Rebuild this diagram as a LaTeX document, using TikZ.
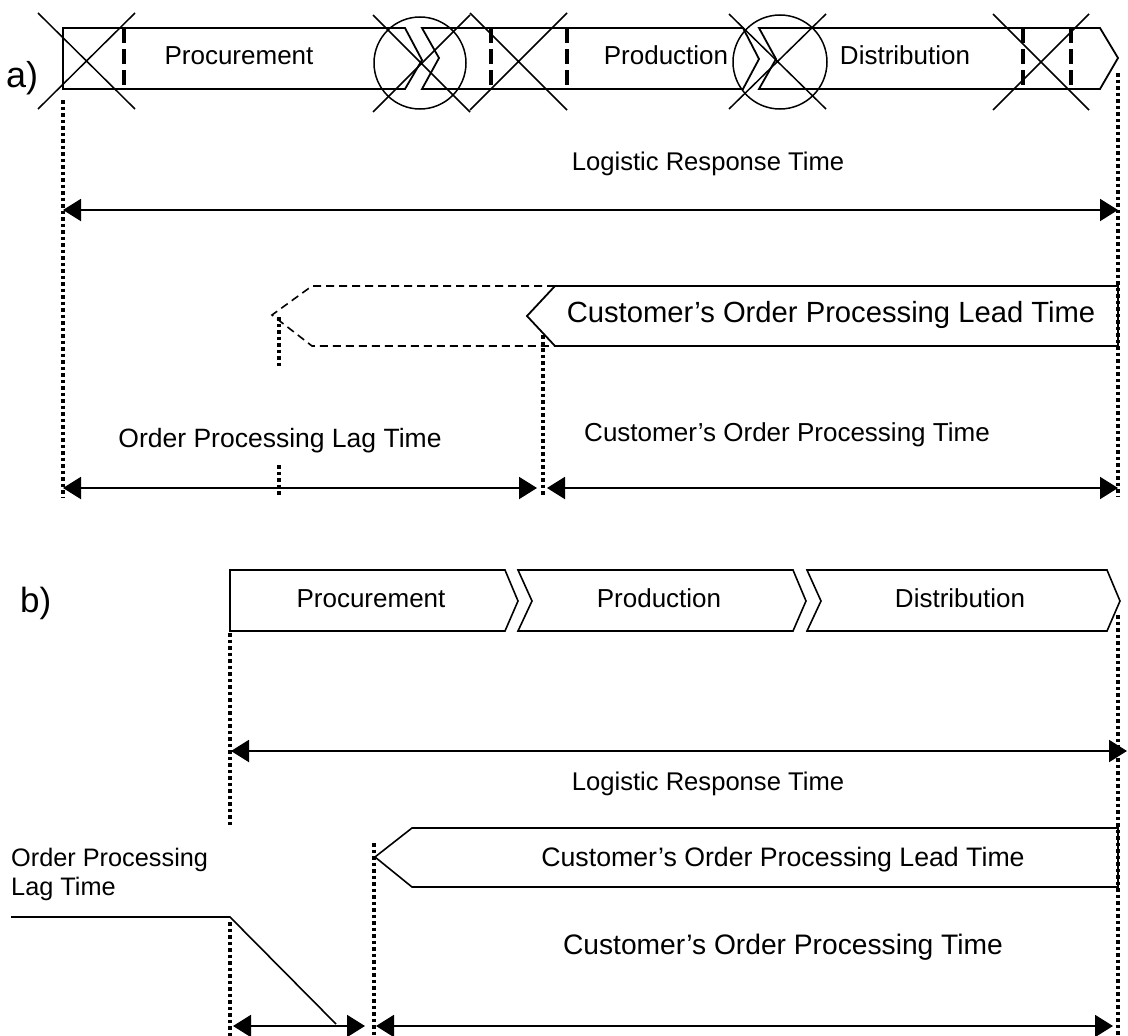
\documentclass[tikz,border=0pt]{standalone}
\usepackage{fontspec}
\setmainfont{Liberation Sans}
\usetikzlibrary{arrows.meta}

\newcommand{\fs}[1]{\fontsize{#1pt}{#1pt}\selectfont}

\tikzset{
  box/.style={draw=black, line width=1.8pt, line join=miter},
  thinbox/.style={draw=black, line width=1.6pt, line join=miter},
  ghostbox/.style={draw=black, line width=1.6pt, dash pattern=on 8pt off 5pt},
  crossline/.style={draw=black, line width=1.5pt},
  sepline/.style={draw=black, line width=4pt, dash pattern=on 15pt off 6pt},
  guide/.style={draw=black, line width=3.3pt, dash pattern=on 3.5pt off 3pt},
  span/.style={draw=black, line width=2pt,
    {Triangle[length=18pt,width=22pt]}-{Triangle[length=18pt,width=22pt]}},
  lbl/.style={inner sep=0pt, anchor=base},
}

\begin{document}
\begin{tikzpicture}[x=1pt,y=-1pt]
\useasboundingbox[fill=white] (0,0) rectangle (1128,1036);

% ---------------- a) ----------------
\node[lbl, anchor=base west, font=\fs{36}] (capA) at (6,87) {a)};

% process band
\draw[box] (63,28) -- (405,28) -- (422,60) -- (405,89) -- (63,89) -- cycle;
\draw[box] (422,28) -- (743,28) -- (759,59) -- (743,89) -- (422,89) -- (439,58) -- cycle;
\draw[box] (759,28) -- (1100,28) -- (1118,58) -- (1100,89) -- (759,89) -- (776,59) -- cycle;

\node[lbl, font=\fs{26}] (procA) at (239,64) {Procurement};
\node[lbl, font=\fs{26}] (prodA) at (666,64) {Production};
\node[lbl, font=\fs{26}] (distA) at (905,64) {Distribution};

% dashed separators
\foreach \xx in {124,491,567,1023,1071}
  \draw[sepline] (\xx,28) -- (\xx,89);

% circles round the hand-overs
\draw[crossline] (420,63) circle[radius=46];
\draw[crossline] (780,62) circle[radius=47];

% crossed-out steps
\draw[crossline] (38,13) -- (135,109) (38,109) -- (135,13);
\draw[crossline] (373,15) -- (470,112) (373,112) -- (470,15);
\draw[crossline] (470,13) -- (567,110) (470,110) -- (567,13);
\draw[crossline] (729,14) -- (826,109) (729,109) -- (826,14);
\draw[crossline] (993,14) -- (1089,110) (993,110) -- (1089,14);

% guides
\coordinate (aL0) at (63,100);   \coordinate (aL1) at (63,497);
\coordinate (aR0) at (1118,73);  \coordinate (aR1) at (1118,497);
\coordinate (aM0) at (543,335);  \coordinate (aM1) at (543,497);
\coordinate (aK0) at (279,317);  \coordinate (aK1) at (279,368);
\coordinate (aK2) at (279,465);  \coordinate (aK3) at (279,497);
\draw[guide] (aL0) -- (aL1);
\draw[guide] (aR0) -- (aR1);
\draw[guide] (aM0) -- (aM1);
\draw[guide] (aK0) -- (aK1);
\draw[guide] (aK2) -- (aK3);

% logistic response time
\node[lbl, font=\fs{25.6}] (lrtA) at (708,170) {Logistic Response Time};
\coordinate (lrtA0) at (63,210); \coordinate (lrtA1) at (1118,210);
\draw[span] (lrtA0) -- (lrtA1);

% lead time box with its dashed extension
\draw[ghostbox] (555,286) -- (312,286) -- (272,315) -- (312,346) -- (555,346);
\draw[box] (555,286) -- (1118,286) -- (1118,346) -- (555,346) -- (527,316) -- cycle;
\node[lbl, font=\fs{29.2}] (leadA) at (831,322) {Customer’s Order Processing Lead Time};

% lag / processing spans
\node[lbl, font=\fs{26.5}] (lagA) at (280,447) {Order Processing Lag Time};
\node[lbl, font=\fs{26}] (cptA) at (787,441) {Customer’s Order Processing Time};
\coordinate (lagA0) at (63,488);  \coordinate (lagA1) at (537,488);
\coordinate (cptA0) at (547,488); \coordinate (cptA1) at (1118,488);
\draw[span] (lagA0) -- (lagA1);
\draw[span] (cptA0) -- (cptA1);

% ---------------- b) ----------------
\node[lbl, anchor=base west, font=\fs{35}] (capB) at (20,612) {b)};

\draw[thinbox] (230,570) -- (505,570) -- (518,601) -- (505,631) -- (230,631) -- cycle;
\draw[thinbox] (518,570) -- (793,570) -- (806,601) -- (793,631) -- (518,631) -- (532,601) -- cycle;
\draw[thinbox] (807,570) -- (1107,570) -- (1120,601) -- (1107,631) -- (807,631) -- (821,601) -- cycle;

\node[lbl, font=\fs{26}] (procB) at (371,607) {Procurement};
\node[lbl, font=\fs{26}] (prodB) at (659,607) {Production};
\node[lbl, font=\fs{26}] (distB) at (960,607) {Distribution};

% guides
\coordinate (bL0) at (230,633);  \coordinate (bL1) at (230,825);
\coordinate (bL2) at (230,922);  \coordinate (bL3) at (230,1036);
\coordinate (bR0) at (1118,615); \coordinate (bR1) at (1118,1036);
\coordinate (bM0) at (374,843);  \coordinate (bM1) at (374,1036);
\draw[guide] (bL0) -- (bL1);
\draw[guide] (bL2) -- (bL3);
\draw[guide] (bR0) -- (bR1);
\draw[guide] (bM0) -- (bM1);

% logistic response time
\coordinate (lrtB0) at (231,751); \coordinate (lrtB1) at (1127,751);
\draw[span] (lrtB0) -- (lrtB1);
\node[lbl, font=\fs{25.6}] (lrtB) at (708,790) {Logistic Response Time};

% lead time box
\draw[thinbox] (412,828) -- (1118,828) -- (1118,887) -- (412,887) -- (375,857) -- cycle;
\node[lbl, font=\fs{26.7}] (leadB) at (783,866) {Customer’s Order Processing Lead Time};

% lag time label with its pointer
\node[lbl, anchor=base west, font=\fs{25.3}] (lagB1) at (11,866) {Order Processing};
\node[lbl, anchor=base west, font=\fs{25.3}] (lagB2) at (11,895) {Lag Time};
\coordinate (ptr0) at (11,917); \coordinate (ptr1) at (230,917); \coordinate (ptr2) at (336,1024);
\draw[thinbox] (ptr0) -- (ptr1) -- (ptr2);

% processing time
\node[lbl, font=\fs{28.2}] (cptB) at (783,954) {Customer’s Order Processing Time};
\coordinate (lagB0) at (233,1026); \coordinate (lagBe) at (365,1026);
\coordinate (cptB0) at (376,1026); \coordinate (cptB1) at (1113,1026);
\draw[span] (lagB0) -- (lagBe);
\draw[span] (cptB0) -- (cptB1);
\end{tikzpicture}
\end{document}
